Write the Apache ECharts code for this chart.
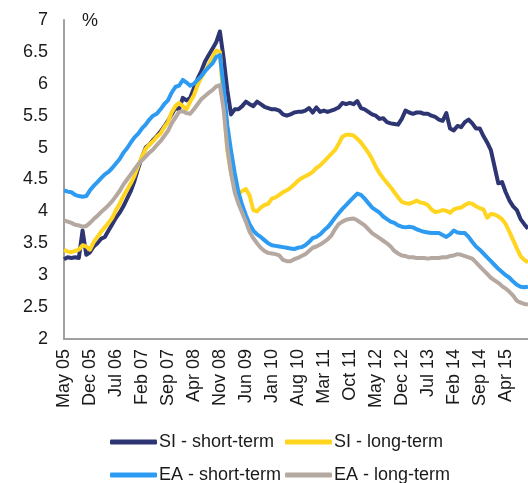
<!DOCTYPE html>
<html>
<head>
<meta charset="utf-8">
<script src="https://cdn.jsdelivr.net/npm/echarts@6/dist/echarts.min.js"></script>
<style>
  html, body { margin: 0; padding: 0; background: #fff; }
  #chart { width: 528px; height: 483px; }
</style>
</head>
<body>
<div id="chart"></div>
<script>
// monthly, May 2005 .. Oct 2015
const monthNames = ['Jan', 'Feb', 'Mar', 'Apr', 'May', 'Jun', 'Jul', 'Aug', 'Sep', 'Oct', 'Nov', 'Dec']
const startYear = 2005
const startMonth = 4 // May
const monthCount = 126

const siShort = [
  3.25, 3.28, 3.27, 3.28, 3.27, 3.70, 3.32, 3.36, 3.45, 3.50,
  3.57, 3.60, 3.70, 3.80, 3.90, 3.98, 4.08, 4.20, 4.32, 4.48,
  4.68, 4.85, 5.00, 5.05, 5.12, 5.18, 5.25, 5.33, 5.42, 5.52,
  5.62, 5.60, 5.78, 5.74, 5.78, 5.93, 6.08, 6.20, 6.35, 6.45,
  6.55, 6.65, 6.82, 6.40, 5.90, 5.52, 5.60, 5.60, 5.65, 5.72,
  5.68, 5.65, 5.72, 5.68, 5.64, 5.62, 5.60, 5.60, 5.58, 5.52,
  5.50, 5.52, 5.55, 5.56, 5.56, 5.58, 5.62, 5.55, 5.63, 5.56,
  5.58, 5.56, 5.58, 5.60, 5.63, 5.70, 5.68, 5.70, 5.68, 5.73,
  5.62, 5.60, 5.56, 5.52, 5.50, 5.45, 5.46, 5.40, 5.38, 5.37,
  5.36, 5.45, 5.58, 5.55, 5.53, 5.55, 5.55, 5.53, 5.53, 5.50,
  5.48, 5.44, 5.42, 5.54, 5.30, 5.27, 5.34, 5.32, 5.40, 5.44,
  5.38, 5.30, 5.30, 5.18, 5.08, 4.96, 4.70, 4.44, 4.46, 4.30,
  4.17, 4.08, 4.02, 3.88, 3.80, 3.73
]

const siLong = [
  3.40, 3.37, 3.36, 3.38, 3.40, 3.47, 3.45, 3.40, 3.52, 3.60,
  3.68, 3.75, 3.82, 3.90, 4.02, 4.12, 4.24, 4.34, 4.44, 4.56,
  4.72, 4.86, 4.98, 5.05, 5.10, 5.17, 5.22, 5.32, 5.40, 5.55,
  5.65, 5.70, 5.65, 5.60, 5.72, 5.82, 5.98, 6.10, 6.20, 6.30,
  6.42, 6.52, 6.50, 5.70, 4.95, 4.60, 4.38, 4.28, 4.32, 4.35,
  4.25, 4.02, 4.00, 4.06, 4.10, 4.12, 4.20, 4.22, 4.26, 4.30,
  4.33, 4.37, 4.42, 4.48, 4.52, 4.55, 4.58, 4.62, 4.68, 4.72,
  4.78, 4.84, 4.90, 4.96, 5.06, 5.17, 5.20, 5.20, 5.19, 5.14,
  5.08, 5.00, 4.92, 4.82, 4.70, 4.60, 4.52, 4.45, 4.38, 4.30,
  4.22, 4.15, 4.13, 4.12, 4.14, 4.17, 4.14, 4.13, 4.10, 4.03,
  3.99, 4.00, 4.02, 4.01, 3.98, 4.03, 4.05, 4.06, 4.10, 4.13,
  4.12, 4.08, 4.05, 4.03, 3.90, 3.96, 3.95, 3.92, 3.88, 3.80,
  3.68, 3.55, 3.42, 3.30, 3.24, 3.20
]

const eaShort = [
  4.33, 4.31, 4.30, 4.26, 4.24, 4.23, 4.24, 4.33, 4.40, 4.46,
  4.52, 4.58, 4.62, 4.68, 4.75, 4.82, 4.92, 4.99, 5.08, 5.16,
  5.22, 5.30, 5.36, 5.44, 5.50, 5.53, 5.60, 5.68, 5.74, 5.86,
  5.95, 5.97, 6.06, 6.02, 5.97, 6.00, 6.06, 6.12, 6.20, 6.26,
  6.32, 6.42, 6.45, 5.95, 5.35, 4.95, 4.60, 4.30, 4.10, 3.94,
  3.80, 3.70, 3.64, 3.60, 3.55, 3.50, 3.47, 3.46, 3.45, 3.44,
  3.43, 3.42, 3.41, 3.43, 3.44, 3.47, 3.52, 3.58, 3.60, 3.64,
  3.70, 3.75, 3.82, 3.90, 3.97, 4.04, 4.10, 4.16, 4.22, 4.28,
  4.26, 4.20, 4.13, 4.06, 4.02, 3.98, 3.92, 3.88, 3.84, 3.82,
  3.78, 3.76, 3.75, 3.76, 3.75, 3.72, 3.70, 3.68, 3.67, 3.66,
  3.66, 3.66, 3.63, 3.60, 3.64, 3.70, 3.67, 3.66, 3.66, 3.60,
  3.52, 3.45, 3.40, 3.34, 3.28, 3.22, 3.16, 3.10, 3.05, 3.00,
  2.96, 2.90, 2.85, 2.82, 2.81, 2.82
]

const eaLong = [
  3.86, 3.84, 3.82, 3.79, 3.78, 3.76, 3.77, 3.82, 3.88, 3.93,
  3.99, 4.04, 4.10, 4.16, 4.24, 4.32, 4.42, 4.50, 4.58, 4.66,
  4.74, 4.80, 4.86, 4.92, 4.97, 5.04, 5.10, 5.18, 5.26, 5.38,
  5.47, 5.56, 5.57, 5.54, 5.53, 5.60, 5.68, 5.76, 5.81, 5.86,
  5.90, 5.96, 5.98, 5.60, 5.00, 4.60, 4.30, 4.12, 3.98, 3.84,
  3.68, 3.58, 3.50, 3.43, 3.38, 3.35, 3.34, 3.33, 3.31, 3.24,
  3.22, 3.22, 3.25, 3.27, 3.30, 3.33, 3.38, 3.43, 3.45, 3.48,
  3.52, 3.56, 3.62, 3.72, 3.80, 3.84, 3.87, 3.88, 3.89, 3.86,
  3.82, 3.78, 3.72, 3.66, 3.62, 3.58, 3.54, 3.50, 3.45, 3.38,
  3.34, 3.31, 3.30, 3.28, 3.28, 3.27, 3.27, 3.27, 3.26, 3.27,
  3.27, 3.27, 3.28, 3.28, 3.30, 3.31, 3.33, 3.32, 3.30, 3.28,
  3.26, 3.20, 3.14, 3.08, 3.02, 2.96, 2.92, 2.88, 2.83, 2.79,
  2.74, 2.68, 2.60, 2.57, 2.55, 2.54
]

const seriesNames = ['SI - short-term', 'SI - long-term', 'EA - short-term', 'EA - long-term']
const seriesColors = ['#2E3573', '#FFD520', '#2E9BF2', '#B4A8A1']

// 月份标签：May 05, Jun 05, ...
const months = []
for (let k = 0; k < monthCount; k++) {
  const m = (startMonth + k) % 12
  const y = startYear + Math.floor((startMonth + k) / 12)
  months.push(monthNames[m] + ' ' + String(y % 100).padStart(2, '0'))
}

const font = 'Liberation Sans, Arial, sans-serif'
const chart = echarts.init(document.getElementById('chart'), null, { renderer: 'canvas' })

const legendPos = [
  { left: 110, top: 433 },
  { left: 285, top: 433 },
  { left: 110, top: 466 },
  { left: 285, top: 466 },
]

chart.setOption({
  animation: false,
  backgroundColor: '#fff',
  grid: { left: 64, right: 0, top: 20, height: 319 },
  graphic: [
    {
      type: 'text',
      left: 82,
      top: 12,
      style: { text: '%', font: '18px ' + font, fill: '#1a1a1a' },
    },
  ],
  legend: seriesNames.map((name, i) => ({
    data: [name],
    left: legendPos[i].left,
    top: legendPos[i].top,
    icon: 'roundRect',
    itemWidth: 47,
    itemHeight: 5,
    itemGap: 0,
    padding: 0,
    textStyle: { fontFamily: font, fontSize: 18, color: '#1a1a1a', padding: [0, 0, 0, -3] },
  })),
  xAxis: {
    type: 'category',
    data: months,
    boundaryGap: false,
    axisLine: { lineStyle: { color: '#a0a0a0', width: 2 } },
    axisTick: { show: false },
    axisLabel: {
      interval: 6,
      rotate: 90,
      margin: 10,
      fontFamily: font,
      fontSize: 18,
      color: '#1a1a1a',
    },
    splitLine: { show: false },
  },
  yAxis: {
    type: 'value',
    min: 2,
    max: 7,
    interval: 0.5,
    axisLine: { show: true, lineStyle: { color: '#a0a0a0', width: 2 } },
    axisTick: { show: false },
    axisLabel: { margin: 16, fontFamily: font, fontSize: 18, color: '#1a1a1a' },
    splitLine: { show: false },
  },
  series: [siShort, siLong, eaShort, eaLong].map((d, i) => ({
    name: seriesNames[i],
    type: 'line',
    data: d,
    symbol: 'none',
    smooth: false,
    lineStyle: { color: seriesColors[i], width: 4, join: 'round' },
    itemStyle: { color: seriesColors[i] },
  })),
})
</script>
</body>
</html>
